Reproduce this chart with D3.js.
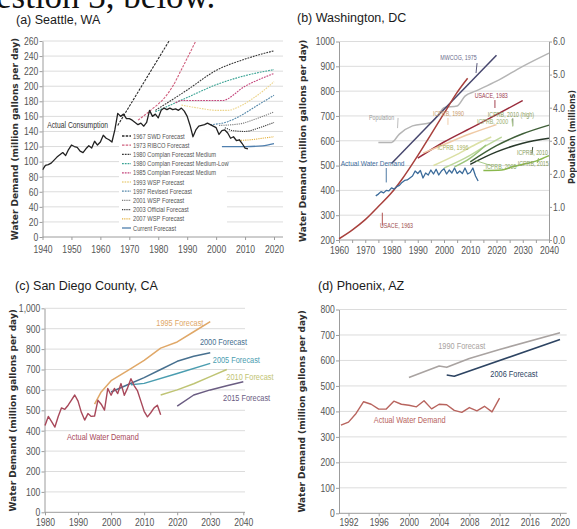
<!DOCTYPE html>
<html>
<head>
<meta charset="utf-8">
<script src="https://cdn.jsdelivr.net/npm/d3@7"></script>
<style>
  body { margin: 0; background: #fff; }
  svg { display: block; }
</style>
</head>
<body>
<svg id="chart" width="577" height="529"></svg>
<script>
// Four panels of water demand: actual use vs. past forecasts

// ---------- (a) Seattle, WA ----------
const seaXTicks = [1940, 1950, 1960, 1970, 1980, 1990, 2000, 2010, 2020];
const seaYTicks = [0, 20, 40, 60, 80, 100, 120, 140, 160, 180, 200, 220, 240, 260];
const seaActual = [[1940,89],[1941,95],[1942,96],[1943,98],[1944,102],[1945,106],[1946,109],[1947,112],[1948,108],[1949,116],
  [1950,122],[1951,120],[1952,119],[1953,114],[1954,112],[1955,117],[1956,121],[1957,118],[1958,127],[1959,122],
  [1960,126],[1961,135],[1962,131],[1963,129],[1964,126],[1965,142],[1966,164],[1967,160],[1968,163],[1969,157],
  [1970,157],[1971,155],[1972,152],[1973,149],[1974,151],[1975,147],[1976,152],[1977,168],[1978,160],[1979,163],
  [1980,158],[1981,168],[1982,171],[1983,169],[1984,171],[1985,169],[1986,170],[1987,168],[1988,171],[1989,167],
  [1990,160],[1991,148],[1992,133],[1993,142],[1994,147],[1995,148],[1996,149],[1997,151],[1998,149],[1999,147],
  [2000,145],[2001,136],[2002,141],[2003,142],[2004,138],[2005,131],[2006,133],[2007,128],[2008,129],[2009,124],
  [2010,118],[2011,117]];
const seaNames = ["1967 SWD Forecast", "1973 RIBCO Forecast", "1980 Complan Forecast Medium",
  "1980 Complan Forecast Medium-Low", "1985 Complan Forecast Medium", "1993 WSP Forecast",
  "1997 Revised Forecast", "2001 WSP Forecast", "2003 Official Forecast", "2007 WSP Forecast", "Current Forecast"];
const seaForecasts = [
  [[1966,148],[1985,268]],
  [[1973,155],[1978,170],[1982,184],[1985,200],[1988,222],[1994,268]],
  [[1979,168],[1990,195],[2000,221],[2010,236],[2020,247]],
  [[1979,166],[1990,185],[2000,202],[2010,214],[2020,222]],
  [[1986,178],[1988,181],[2002,181],[2010,200],[2020,217]],
  [[1988,175],[1994,171],[2000,168],[2004,168],[2008,173],[2012,182],[2016,193],[2020,206]],
  [[1998,149],[2004,153],[2008,160],[2014,174],[2020,188]],
  [[2001,148],[2008,150],[2014,157],[2020,166]],
  [[2003,145],[2006,141],[2010,140],[2015,145],[2020,152]],
  [[2007,128],[2012,129],[2016,131],[2020,133]],
  [[2002,120],[2010,120],[2016,121],[2020,124]]
];

// ---------- (b) Washington, DC ----------
const dcXTicks = [1960,1965,1970,1975,1980,1985,1990,1995,2000,2005,2010,2015,2020,2025,2030,2035,2040];
const dcYTicks = [200, 300, 400, 500, 600, 700, 800, 900, 1000];
const dcPopTicks = [0, 1, 2, 3, 4, 5, 6];
const dcPopulation = [[1975,2.95],[1980,2.95],[1983,3.2],[1988,3.45],[1995,3.55],[1998,3.8],[2000,4.0],[2005,4.05],
  [2008,4.35],[2012,4.5],[2020,4.8],[2030,5.25],[2040,5.65]];
const dcActual = [[1974,378],[1975,385],[1976,395],[1977,390],[1978,400],[1979,398],[1980,410],[1981,405],[1982,415],
  [1983,420],[1984,432],[1985,440],[1986,442],[1987,450],[1988,458],[1989,478],[1990,468],[1991,480],[1992,450],
  [1993,470],[1994,462],[1995,482],[1996,466],[1997,485],[1998,462],[1999,478],[2000,487],[2001,466],[2002,482],
  [2003,470],[2004,490],[2005,468],[2006,478],[2007,468],[2008,490],[2009,466],[2010,472],[2011,490],[2012,458],[2013,438]];
const dcNames = ["MWCOG, 1975", "USACE, 1963", "USACE, 1983", "ICPRB, 1990", "ICPRB, 1996", "ICPRB, 2000",
  "ICPRB, 2005", "ICPRB, 2010 (high)", "ICPRB, 2010", "ICPRB, 2015"];
const dcForecasts = [
  [[1980,508],[2020,945]],
  [[1960,205],[1965,240],[1970,282],[1975,335],[1980,390],[1984,445],[1990,540],[1995,625],[2000,710],[2005,795],[2009,852]],
  [[1990,530],[2000,595],[2010,650],[2020,705],[2030,762]],
  [[1992,550],[2000,585],[2010,628],[2020,665]],
  [[1996,500],[2005,545],[2012,585],[2018,615]],
  [[2000,490],[2008,530],[2016,580],[2022,615]],
  [[2004,495],[2010,530],[2016,583]],
  [[2010,515],[2020,580],[2030,628],[2040,663]],
  [[2010,505],[2020,555],[2030,590],[2040,610]],
  [[2015,480],[2022,482],[2026,495],[2030,505],[2035,518],[2040,540]]
];
// label text, anchor year, anchor value (left axis units)
const dcLabels = [["MWCOG, 1975",2005.5,925],["USACE, 1983",2018,772],["ICPRB, 1990",2001.7,700],
  ["ICPRB, 2010 (high)",2025.5,696],["ICPRB, 2000",2018.5,667],["Population",1976.2,684],
  ["ICPRB, 1996",2003.4,563],["ICPRB, 2010",2033.7,543],["ICPRB, 2015",2034,498],["ICPRB, 2005",2021.7,486],
  ["Actual Water Demand",1972.8,498],["USACE, 1963",1981.9,248]];
// leader ticks: from [year, value] to [year, value]
const dcLeaders = [[2012.6,913,2012.2,873],[2019.4,764,2019.4,732],[2001.5,692,2001.5,664],[2026.2,690,2026.2,660],
  [2025.8,688,2026.2,656],[1982.5,692,1982.3,651],[2033.8,575,2033.5,548],[2035.5,510,2036,530],
  [2018,500,2012,520],[1978,490,1978,432],[1976.5,258,1976.5,310]];

// ---------- (c) San Diego County, CA ----------
const sdXTicks = [1980, 1990, 2000, 2010, 2020, 2030, 2040];
const sdYTicks = [0, 100, 200, 300, 400, 500, 600, 700, 800, 900, 1000];
const sdActual = [[1980,425],[1981,470],[1982,445],[1983,418],[1984,470],[1985,512],[1986,505],[1987,525],[1988,550],
  [1989,575],[1990,545],[1991,490],[1992,452],[1993,484],[1994,470],[1995,472],[1996,549],[1997,530],[1998,501],
  [1999,607],[2000,574],[2001,607],[2002,582],[2003,631],[2004,574],[2005,610],[2006,655],[2007,620],[2008,595],
  [2009,545],[2010,495],[2011,468],[2012,488],[2013,512],[2014,525],[2015,478]];
const sdNames = ["1995 Forecast", "2000 Forecast", "2005 Forecast", "2010 Forecast", "2015 Forecast"];
const sdForecasts = [
  [[1995,530],[1997,590],[2000,645],[2005,695],[2010,745],[2015,805],[2020,835],[2025,885],[2030,935]],
  [[2000,590],[2005,625],[2010,660],[2015,700],[2020,740],[2025,765],[2030,782]],
  [[2006,625],[2010,632],[2020,680],[2030,730]],
  [[2015,575],[2020,600],[2025,630],[2030,665],[2035,700]],
  [[2020,520],[2025,575],[2030,600],[2035,620],[2040,640]]
];
const sdLabels = [["1995 Forecast",2020.8,912],["2000 Forecast",2034,819],["2005 Forecast",2037.9,731],
  ["2010 Forecast",2042,648],["2015 Forecast",2041,545],["Actual Water Demand",1997.5,354]];

// ---------- (d) Phoenix, AZ ----------
const phxXTicks = [1992, 1996, 2000, 2004, 2008, 2012, 2016, 2020];
const phxYTicks = [0, 100, 200, 300, 400, 500, 600, 700, 800];
const phxActual = [[1991,346],[1992,358],[1993,392],[1994,438],[1995,428],[1996,409],[1997,409],[1998,440],[1999,428],
  [2000,424],[2001,418],[2002,442],[2003,410],[2004,428],[2005,426],[2006,404],[2007,396],[2008,415],[2009,402],
  [2010,420],[2011,398],[2012,452]];
const phxNames = ["1990 Forecast", "2006 Forecast"];
const phxForecasts = [
  [[2000,533],[2004,578],[2005,573],[2008,608],[2012,643],[2020,709]],
  [[2005,543],[2006,538],[2020,682]]
];
const phxLabels = [["1990 Forecast",2007,645],["2006 Forecast",2013.9,535],["Actual Water Demand",2000.1,354]];

// ---------- drawing ----------
const SANS = '"Liberation Sans", Arial, sans-serif';
const BOLD = '"DejaVu Sans", Verdana, sans-serif';
const SQUEEZE = "scale(0.82,1)"; // the original uses a condensed face
const svg = d3.select("#chart");

// cut-off line of the question text above the figure
svg.append("text")
  .attr("x", -4).attr("y", 8)
  .attr("font-family", '"Liberation Serif", "Times New Roman", serif')
  .attr("font-size", 35).attr("fill", "#111")
  .text("estion 3, below.");

function styleAxis(sel, size) {
  sel.attr("font-family", SANS).attr("font-size", size);
  sel.select(".domain").attr("stroke", "#9c9c9c");
  sel.selectAll(".tick line").attr("stroke", "#9c9c9c");
  sel.selectAll(".tick text").attr("fill", "#555").attr("transform", SQUEEZE);
}

// draws title, grid, axes and y title of one panel, returns its group
function drawFrame(p) {
  const g = svg.append("g");
  g.append("text")
    .attr("x", p.tx).attr("y", p.ty)
    .attr("font-family", SANS).attr("font-size", 12.5).attr("fill", "#1a1a1a")
    .text(p.title);

  const base = p.y.range()[0];
  const top = p.y.range()[1];

  g.append("g").selectAll("line")
    .data(p.yTicks.slice(1))
    .join("line")
    .attr("x1", p.axisX).attr("x2", p.gridEnd)
    .attr("y1", d => p.y(d)).attr("y2", d => p.y(d))
    .attr("stroke", "#dcdcdc").attr("stroke-width", 1);

  const gx = g.append("g")
    .attr("transform", `translate(0,${base})`)
    .call(d3.axisBottom(p.x).tickValues(p.xTicks).tickFormat(p.xFmt || d3.format("d"))
      .tickSize(3).tickSizeOuter(0).tickPadding(p.xPad));
  gx.select(".domain").attr("d", `M${p.axisX},0H${p.gridEnd}`);
  styleAxis(gx, 10.5);

  const gy = g.append("g")
    .attr("transform", `translate(${p.axisX},0)`)
    .call(d3.axisLeft(p.y).tickValues(p.yTicks).tickFormat(p.yFmt)
      .tickSize(3).tickSizeOuter(0).tickPadding(2));
  styleAxis(gy, 10.5);

  g.append("text")
    .attr("transform", `translate(${p.yTitleX},${(base + top) / 2}) rotate(-90)`)
    .attr("text-anchor", "middle").attr("dy", "0.35em")
    .attr("font-family", BOLD).attr("font-weight", "bold").attr("font-size", 9).attr("fill", "#2e2e2e")
    .text("Water Demand (million gallons per day)");

  g.append("clipPath").attr("id", p.id)
    .append("rect")
    .attr("x", p.axisX).attr("y", top)
    .attr("width", p.gridEnd - p.axisX).attr("height", base - top);
  return g;
}

function drawLine(g, x, y, pts, color, width, dash, curve) {
  g.append("path")
    .datum(pts)
    .attr("fill", "none")
    .attr("stroke", color)
    .attr("stroke-width", width)
    .attr("stroke-dasharray", dash || null)
    .attr("stroke-linejoin", "round")
    .attr("d", d3.line().x(d => x(d[0])).y(d => y(d[1])).curve(curve || d3.curveLinear));
}

function drawLabels(g, x, y, labels, colors, size) {
  g.append("g").selectAll("text")
    .data(labels)
    .join("text")
    .attr("transform", d => `translate(${x(d[1])},${y(d[2])}) ${SQUEEZE}`)
    .attr("text-anchor", "middle")
    .attr("font-family", SANS)
    .attr("font-size", d => (typeof size === "function" ? size(d) : size))
    .attr("fill", d => colors[d[0]])
    .text(d => d[0]);
}

// ----- panel (a)
const xA = d3.scaleLinear().domain([1940, 2020]).range([42.5, 274]);
const yA = d3.scaleLinear().domain([0, 260]).range([237, 41]);
const gA = drawFrame({ id: "clipA", title: "(a) Seattle, WA", tx: 16, ty: 24, x: xA, y: yA,
  xTicks: seaXTicks, yTicks: seaYTicks, yFmt: d3.format("d"), axisX: 42.5, gridEnd: 283, xPad: 6, yTitleX: 15 });

const seaStyle = {
  "1967 SWD Forecast": { color: "#2b2b2b", dash: "2.5,1.2" },
  "1973 RIBCO Forecast": { color: "#d0607e", dash: "2.5,1.2" },
  "1980 Complan Forecast Medium": { color: "#3a3a3a", dash: "1.8,1" },
  "1980 Complan Forecast Medium-Low": { color: "#3aa394", dash: "1.8,1" },
  "1985 Complan Forecast Medium": { color: "#c4457c", dash: "1.8,1" },
  "1993 WSP Forecast": { color: "#ecd48a", dash: "1.6,1" },
  "1997 Revised Forecast": { color: "#5588aa", dash: "1.8,1" },
  "2001 WSP Forecast": { color: "#7c7c7c", dash: "1.2,1" },
  "2003 Official Forecast": { color: "#3b3b3b", dash: "1.2,1" },
  "2007 WSP Forecast": { color: "#e4b03a", dash: "1.2,1" },
  "Current Forecast": { color: "#4f7fae", dash: null }
};

// legend box (white, covers the grid)
const legA = gA.append("g");
legA.append("rect").attr("x", 119).attr("y", 131).attr("width", 108).attr("height", 101).attr("fill", "#fff");
legA.selectAll("g")
  .data(seaNames)
  .join("g")
  .attr("transform", (d, i) => `translate(122,${136 + i * 9.2})`)
  .each(function (d) {
    const s = seaStyle[d];
    d3.select(this).append("line")
      .attr("x1", 0).attr("x2", 9)
      .attr("stroke", s.color).attr("stroke-width", 1.3)
      .attr("stroke-dasharray", s.dash);
    d3.select(this).append("text")
      .attr("transform", `translate(11,2.5) ${SQUEEZE}`)
      .attr("font-family", SANS).attr("font-size", 7).attr("fill", "#555")
      .text(d);
  });

const linesA = gA.append("g").attr("clip-path", "url(#clipA)");
seaNames.forEach((n, i) => {
  const s = seaStyle[n];
  drawLine(linesA, xA, yA, seaForecasts[i], s.color, s.dash ? 1.1 : 1.3, s.dash, d3.curveMonotoneX);
});
drawLine(linesA, xA, yA, seaActual, "#222", 1.3);
gA.append("text")
  .attr("transform", `translate(${xA(1941.6)},${yA(145)}) ${SQUEEZE}`)
  .attr("font-family", SANS).attr("font-size", 8.3).attr("fill", "#333")
  .text("Actual Consumption");

// ----- panel (b)
const xB = d3.scaleLinear().domain([1960, 2040]).range([339, 549]);
const yB = d3.scaleLinear().domain([200, 1000]).range([240, 41.5]);
const yB2 = d3.scaleLinear().domain([0, 6]).range([240, 41.5]);
const gB = drawFrame({ id: "clipB", title: "(b) Washington, DC", tx: 297, ty: 22, x: xB, y: yB,
  xTicks: dcXTicks, xFmt: d => (d % 10 ? "" : d), yTicks: dcYTicks, yFmt: d3.format("d"),
  axisX: 339, gridEnd: 549, xPad: 4, yTitleX: 303 });

const gyR = gB.append("g")
  .attr("transform", "translate(549,0)")
  .call(d3.axisRight(yB2).tickValues(dcPopTicks).tickFormat(d3.format(".1f"))
    .tickSize(3).tickSizeOuter(0).tickPadding(2));
styleAxis(gyR, 10.5);
gB.append("text")
  .attr("transform", `translate(572,137) rotate(-90)`)
  .attr("text-anchor", "middle").attr("dy", "0.35em")
  .attr("font-family", BOLD).attr("font-weight", "bold").attr("font-size", 8).attr("fill", "#2e2e2e")
  .text("Population (millions)");

const dcColors = {
  "MWCOG, 1975": "#47476e",
  "USACE, 1963": "#a8403c",
  "USACE, 1983": "#9a2c3c",
  "ICPRB, 1990": "#efc9a4",
  "ICPRB, 1996": "#dbe0a4",
  "ICPRB, 2000": "#bcd79a",
  "ICPRB, 2005": "#9cc47c",
  "ICPRB, 2010 (high)": "#3f5f38",
  "ICPRB, 2010": "#28382a",
  "ICPRB, 2015": "#8ab84e",
  "Population": "#b5b5b5",
  "Actual Water Demand": "#3b6b9a"
};
const dcTextColors = Object.assign({}, dcColors, {
  "ICPRB, 1990": "#c89a6a", "ICPRB, 1996": "#a8b060", "ICPRB, 2000": "#9ab070",
  "ICPRB, 2005": "#8aaa60", "ICPRB, 2010 (high)": "#8aa060", "ICPRB, 2010": "#8aa060",
  "ICPRB, 2015": "#8aa060", "Population": "#999", "MWCOG, 1975": "#6a6a8a", "USACE, 1963": "#a05050",
  "USACE, 1983": "#a04050"
});
const dcLeaderColors = ["#47476e", "#9a2c3c", "#efc9a4", "#3f5f38", "#bcd79a", "#b5b5b5", "#28382a",
  "#8ab84e", "#9cc47c", "#3b6b9a", "#a8403c"];

drawLine(gB, xB, yB2, dcPopulation, dcColors["Population"], 1.5, null, d3.curveMonotoneX);
dcNames.forEach((n, i) => drawLine(gB, xB, yB, dcForecasts[i], dcColors[n], 1.5, null, d3.curveMonotoneX));
drawLine(gB, xB, yB, dcActual, dcColors["Actual Water Demand"], 1.3);
gB.append("g").selectAll("line")
  .data(dcLeaders)
  .join("line")
  .attr("x1", d => xB(d[0])).attr("y1", d => yB(d[1]))
  .attr("x2", d => xB(d[2])).attr("y2", d => yB(d[3]))
  .attr("stroke", (d, i) => dcLeaderColors[i]).attr("stroke-width", 0.9);
drawLabels(gB, xB, yB, dcLabels, dcTextColors, d => (d[0] === "Actual Water Demand" ? 8 : 6.5));

// ----- panel (c)
const xC = d3.scaleLinear().domain([1980, 2040]).range([45, 243.3]);
const yC = d3.scaleLinear().domain([0, 1000]).range([512.3, 308.3]);
const gC = drawFrame({ id: "clipC", title: "(c) San Diego County, CA", tx: 15, ty: 290, x: xC, y: yC,
  xTicks: sdXTicks, yTicks: sdYTicks, yFmt: d3.format(","), axisX: 44.5, gridEnd: 245, xPad: 3, yTitleX: 13 });
const sdColors = {
  "1995 Forecast": "#e0a868",
  "2000 Forecast": "#47708f",
  "2005 Forecast": "#4a9db0",
  "2010 Forecast": "#bfc474",
  "2015 Forecast": "#6a5c82",
  "Actual Water Demand": "#a8485a"
};
sdNames.forEach((n, i) => drawLine(gC, xC, yC, sdForecasts[i], sdColors[n], 1.5));
drawLine(gC, xC, yC, sdActual, sdColors["Actual Water Demand"], 1.4);
drawLabels(gC, xC, yC, sdLabels, sdColors, 9);

// ----- panel (d)
const xD = d3.scaleLinear().domain([1992, 2020]).range([348.5, 560]);
const yD = d3.scaleLinear().domain([0, 800]).range([513.3, 309.5]);
const gD = drawFrame({ id: "clipD", title: "(d) Phoenix, AZ", tx: 318, ty: 290, x: xD, y: yD,
  xTicks: phxXTicks, yTicks: phxYTicks, yFmt: d3.format("d"), axisX: 339, gridEnd: 566.7, xPad: 2.5, yTitleX: 302 });
const phxColors = {
  "1990 Forecast": "#a9a3a1",
  "2006 Forecast": "#2d4462",
  "Actual Water Demand": "#b8645e"
};
phxNames.forEach((n, i) => drawLine(gD, xD, yD, phxForecasts[i], phxColors[n], 1.6));
drawLine(gD, xD, yD, phxActual, phxColors["Actual Water Demand"], 1.4);
drawLabels(gD, xD, yD, phxLabels, phxColors, 9);
</script>
</body>
</html>
